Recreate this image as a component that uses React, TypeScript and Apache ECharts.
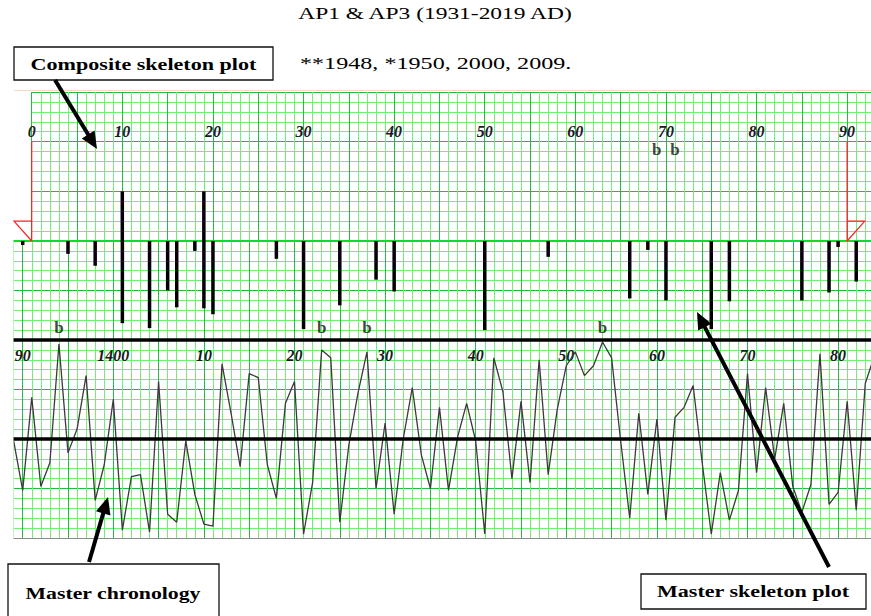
import React, { useEffect, useRef } from "react";
import * as echarts from "echarts";

// ---- Composite (sample) skeleton plot, relative years 0–90 (1931–2019 AD) ----
const compositeTickLabels = ["0", "10", "20", "30", "40", "50", "60", "70", "80", "90"];
const compositeMarkerYears = [10, 19];
const compositeMarkerLengths = [5, 5];
const compositeBigRingYears = [69, 71];
const compositeEnds = [0, 90];

// ---- Master chronology (ring-width index), 1389–1484 ----
const masterStartYear = 1389;
const masterIndex = [
  0.99, 0.74, 1.21, 0.76, 0.88, 1.48, 0.93, 1.05, 1.32, 0.69,
  0.87, 1.2, 0.54, 0.81, 0.82, 0.53, 1.29, 0.62, 0.58, 0.99,
  0.72, 0.57, 0.56, 1.38, 1.13, 0.86, 1.33, 1.31, 0.87, 0.7,
  1.18, 1.29, 0.52, 0.78, 1.45, 1.41, 0.58, 0.97, 1.23, 1.44,
  0.75, 1.08, 0.62, 1.0, 1.26, 0.92, 0.75, 1.16, 0.74, 1.01,
  1.18, 0.99, 0.52, 1.41, 1.24, 0.8, 1.19, 0.78, 1.4, 0.82,
  1.15, 1.37, 1.44, 1.32, 1.37, 1.49, 1.41, 0.99, 0.6, 1.13,
  0.72, 1.1, 0.59, 1.11, 1.16, 1.27, 0.88, 0.52, 0.83, 0.59,
  0.74, 1.33, 0.83, 1.26, 0.9, 1.18, 0.76, 0.63, 0.77, 1.43,
  0.67, 0.73, 1.19, 0.64, 1.28, 1.42,
];
const masterTickYears = [1390, 1400, 1410, 1420, 1430, 1440, 1450, 1460, 1470, 1480];
const masterTickLabels = ["90", "1400", "10", "20", "30", "40", "50", "60", "70", "80"];

// ---- Master skeleton plot: marker years and bar lengths (grid units) ----
const masterSkeletonYears = [
  1390, 1395, 1398, 1401, 1404, 1406, 1407, 1409, 1410, 1411, 1418, 1421, 1425,
  1429, 1431, 1441, 1448, 1457, 1459, 1461, 1466, 1468, 1476, 1479, 1480, 1482,
];
const masterSkeletonLengths = [
  0.4, 1.3, 2.5, 8.3, 8.8, 5.0, 6.7, 1.0, 6.8, 7.4, 1.8, 8.9, 6.5,
  3.9, 5.1, 9.0, 1.6, 5.8, 0.9, 6.0, 8.9, 6.1, 6.0, 5.2, 0.6, 4.1,
];
const masterBigRingYears = [1394, 1423, 1428, 1454];

// ---- styling ----
const MINOR = "#74ee74";
const MAJOR = "#22bb44";
const BASE = "#12d832";
const SERIF = "'Liberation Serif', 'Times New Roman', serif";

// The canvas is wider than the visible page so both graph-paper strips can
// run past the page edges; OX shifts page coordinates into canvas coordinates.
const PAGE_W = 871;
const PAGE_H = 616;
const OX = 40;
const CANVAS_W = PAGE_W + 2 * OX;

function arrow(x1: number, y1: number, x2: number, y2: number) {
  const headLen = 17;
  const headW = 7.5;
  const dx = x2 - x1;
  const dy = y2 - y1;
  const L = Math.hypot(dx, dy);
  const ux = dx / L;
  const uy = dy / L;
  const bx = x2 - ux * headLen;
  const by = y2 - uy * headLen;
  const px = -uy;
  const py = ux;
  return [
    {
      type: "line",
      z: 120,
      shape: { x1, y1, x2: bx + ux * 2, y2: by + uy * 2 },
      style: { stroke: "#000", lineWidth: 4 },
    },
    {
      type: "polygon",
      z: 120,
      shape: {
        points: [
          [x2, y2],
          [bx + px * headW, by + py * headW],
          [bx - px * headW, by - py * headW],
        ],
      },
      style: { fill: "#000" },
    },
  ];
}

function textBox(x: number, y: number, w: number, h: number, label: string, cx: number, cy: number, sx: number) {
  return [
    {
      type: "rect",
      z: 110,
      shape: { x, y, width: w, height: h },
      style: { fill: "#fff", stroke: "#111", lineWidth: 1.3 },
    },
    {
      type: "text",
      z: 111,
      x: cx,
      y: cy,
      scaleX: sx,
      style: {
        text: label,
        x: 0,
        y: 0,
        align: "center",
        verticalAlign: "middle",
        font: `bold 17px ${SERIF}`,
        fill: "#000",
      },
    },
  ];
}

export default function App() {
  const ref = useRef<HTMLDivElement>(null);

  useEffect(() => {
    if (!ref.current) return;
    const chart = echarts.init(ref.current, undefined, { renderer: "svg" });

    const chronology = masterIndex.map((v, i) => [masterStartYear + i, v]);
    const masterBars = masterSkeletonYears.map((y, i) => [y, masterSkeletonLengths[i]]);
    const compositeBars = compositeMarkerYears.map((y, i) => [y, compositeMarkerLengths[i]]);

    const gridLines = {
      splitLine: { show: true, lineStyle: { color: MAJOR, width: 1 } },
      minorSplitLine: { show: true, lineStyle: { color: MINOR, width: 1 } },
      minorTick: { show: false, splitNumber: 5 },
      axisTick: { show: false },
      axisLine: { show: false },
    };

    const labelFont = {
      fontFamily: SERIF,
      fontStyle: "italic",
      fontWeight: "bold",
      fontSize: 16,
      color: "#1a1a1a",
    };

    const bLabel = {
      show: true,
      position: "inside",
      formatter: "b",
      fontFamily: SERIF,
      fontWeight: "bold",
      fontSize: 17,
      color: "#111",
    };

    const option: any = {
      animation: false,
      backgroundColor: "#fff",
      grid: [
        // composite skeleton strip, years 0–95 at 9.06 px per year
        { left: OX + 31.7, width: 95 * 9.06, top: 92, height: 149, outerBoundsMode: "none" },
        // master skeleton + chronology strip, 1385–1485
        { left: OX - 22.6, width: 100 * 9.06, top: 241, height: 297, outerBoundsMode: "none" },
      ],
      xAxis: [
        {
          type: "value",
          gridIndex: 0,
          min: 0,
          max: 95,
          interval: 5,
          position: "top",
          ...gridLines,
          axisLabel: {
            show: true,
            inside: true,
            margin: 31,
            ...labelFont,
            formatter: (v: number) => {
              const i = v / 10;
              return Number.isInteger(i) && i < compositeTickLabels.length ? compositeTickLabels[i] : "";
            },
          },
        },
        {
          type: "value",
          gridIndex: 1,
          min: 1385,
          max: 1485,
          interval: 5,
          position: "top",
          ...gridLines,
          axisLabel: {
            show: true,
            inside: true,
            margin: 106,
            ...labelFont,
            formatter: (v: number) => {
              const r = Math.round(v);
              const i = masterTickYears.indexOf(r);
              return Math.abs(v - r) < 1e-6 && i >= 0 ? masterTickLabels[i] : "";
            },
          },
        },
      ],
      yAxis: [
        {
          type: "value",
          gridIndex: 0,
          min: 0,
          max: 15,
          interval: 5,
          ...gridLines,
          axisLabel: { show: false },
        },
        {
          type: "value",
          gridIndex: 1,
          min: 0,
          max: 30,
          interval: 5,
          inverse: true,
          ...gridLines,
          splitLine: {
            show: true,
            lineStyle: { color: [MAJOR, MAJOR, MAJOR, MAJOR, MAJOR, MAJOR, "#8a8a8a"], width: 1 },
          },
          axisLabel: { show: false },
        },
        {
          type: "value",
          gridIndex: 1,
          min: 0.5,
          max: 2.0,
          show: false,
          splitLine: { show: false },
        },
      ],
      series: [
        {
          name: "Composite skeleton plot",
          type: "bar",
          xAxisIndex: 0,
          yAxisIndex: 0,
          barWidth: 3.5,
          itemStyle: { color: "#000" },
          data: compositeBars,
          z: 5,
        },
        {
          name: "Composite ends",
          type: "custom",
          xAxisIndex: 0,
          yAxisIndex: 0,
          clip: false,
          z: 6,
          data: compositeEnds.map((y, i) => [y, i === 0 ? -1 : 1]),
          renderItem: (_p: any, api: any) => {
            const yr = api.value(0);
            const dir = api.value(1);
            const base = api.coord([yr, 0]);
            const top = api.coord([yr, 10]);
            const flag = api.coord([yr + dir * 1.95, 2]);
            const st = { stroke: "#ff2020", lineWidth: 1.2, fill: "none" };
            return {
              type: "group",
              children: [
                { type: "polyline", shape: { points: [top, base] }, style: st },
                {
                  type: "polyline",
                  shape: { points: [[base[0], flag[1]], [flag[0], flag[1]], base] },
                  style: st,
                },
              ],
            };
          },
        },
        {
          name: "Composite b",
          type: "scatter",
          xAxisIndex: 0,
          yAxisIndex: 0,
          symbol: "rect",
          symbolSize: 1,
          itemStyle: { color: "rgba(0,0,0,0)" },
          label: bLabel,
          data: compositeBigRingYears.map((y) => [y, 9.2]),
        },
        {
          name: "Master skeleton plot",
          type: "bar",
          xAxisIndex: 1,
          yAxisIndex: 1,
          barWidth: 3.5,
          itemStyle: { color: "#000" },
          data: masterBars,
          z: 5,
          markLine: {
            silent: true,
            symbol: "none",
            label: { show: false },
            lineStyle: { color: BASE, width: 2, type: "solid" },
            data: [{ yAxis: 0 }],
          },
        },
        {
          name: "Master b",
          type: "scatter",
          xAxisIndex: 1,
          yAxisIndex: 1,
          symbol: "rect",
          symbolSize: 1,
          itemStyle: { color: "rgba(0,0,0,0)" },
          label: bLabel,
          data: masterBigRingYears.map((y) => [y, 8.7]),
        },
        {
          name: "Master chronology",
          type: "line",
          xAxisIndex: 1,
          yAxisIndex: 2,
          showSymbol: false,
          symbol: "none",
          lineStyle: { color: "#3a3a3a", width: 1.3 },
          data: chronology,
          z: 4,
          markLine: {
            silent: true,
            symbol: "none",
            label: { show: false },
            lineStyle: { color: "#000", width: 3.5, type: "solid" },
            data: [{ yAxis: 1.0 }, { yAxis: 1.5 }],
          },
        },
      ],
      graphic: [
        {
          type: "group",
          x: OX,
          y: 0,
          children: [
            // paper edge of the lower strip
            { type: "rect", z: 100, shape: { x: -OX, y: 236, width: OX + 13.5, height: 320 }, style: { fill: "#fff" } },
            { type: "line", z: 100, shape: { x1: 14, y1: 90.5, x2: PAGE_W, y2: 90.5 }, style: { stroke: "#f5d9c3", lineWidth: 1 } },
            {
              type: "text",
              z: 110,
              x: 435,
              y: 13,
              scaleX: 1.38,
              style: {
                text: "AP1 & AP3 (1931-2019 AD)",
                x: 0,
                y: 0,
                align: "center",
                verticalAlign: "middle",
                font: `17px ${SERIF}`,
                fill: "#000",
              },
            },
            {
              type: "text",
              z: 110,
              x: 300,
              y: 63,
              scaleX: 1.42,
              style: {
                text: "**1948, *1950, 2000, 2009.",
                x: 0,
                y: 0,
                align: "left",
                verticalAlign: "middle",
                font: `17px ${SERIF}`,
                fill: "#000",
              },
            },
            ...textBox(14, 47, 259, 33, "Composite skeleton plot", 143.5, 64, 1.3),
            ...textBox(8, 564, 211, 60, "Master chronology", 113, 593, 1.28),
            ...textBox(641, 574, 225, 35, "Master skeleton plot", 753, 591, 1.3),
            ...arrow(55, 80, 97, 149),
            ...arrow(89, 562, 108, 497),
            ...arrow(829, 567, 697, 312),
          ],
        },
      ],
    };

    chart.setOption(option);
    return () => chart.dispose();
  }, []);

  return (
    <div
      style={{
        position: "fixed",
        left: 0,
        top: 0,
        width: PAGE_W,
        height: PAGE_H,
        overflow: "hidden",
        background: "#fff",
      }}
    >
      <div
        ref={ref}
        style={{ position: "absolute", left: -OX, top: 0, width: CANVAS_W, height: PAGE_H }}
      />
    </div>
  );
}
